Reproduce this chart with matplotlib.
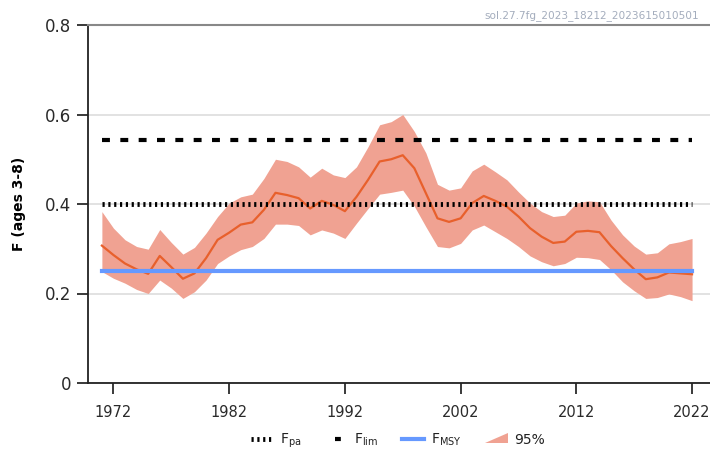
import matplotlib
matplotlib.use("Agg")
import matplotlib.pyplot as plt
import matplotlib.patches as mpatches
from matplotlib.lines import Line2D
from matplotlib.legend_handler import HandlerPatch

years = list(range(1971, 2023))
F = [0.307, 0.286, 0.267, 0.254, 0.244, 0.284, 0.259, 0.233, 0.245, 0.279,
     0.320, 0.336, 0.354, 0.359, 0.387, 0.425, 0.420, 0.413, 0.390, 0.407,
     0.398, 0.384, 0.416, 0.454, 0.495, 0.500, 0.509, 0.480, 0.424, 0.368,
     0.360, 0.368, 0.402, 0.418, 0.407, 0.394, 0.372, 0.346, 0.327, 0.313,
     0.316, 0.338, 0.340, 0.337, 0.306, 0.279, 0.254, 0.232, 0.236, 0.247,
     0.245, 0.243]
F_hi = [0.383, 0.346, 0.320, 0.305, 0.299, 0.343, 0.314, 0.288, 0.303, 0.335,
        0.372, 0.402, 0.416, 0.422, 0.457, 0.500, 0.495, 0.483, 0.460, 0.480,
        0.465, 0.459, 0.483, 0.528, 0.577, 0.584, 0.600, 0.562, 0.514, 0.444,
        0.431, 0.436, 0.474, 0.489, 0.472, 0.454, 0.427, 0.402, 0.383, 0.372,
        0.375, 0.402, 0.407, 0.405, 0.364, 0.331, 0.306, 0.288, 0.291, 0.311,
        0.316, 0.323]
F_lo = [0.249, 0.234, 0.223, 0.209, 0.200, 0.230, 0.212, 0.189, 0.204, 0.230,
        0.267, 0.284, 0.298, 0.305, 0.323, 0.355, 0.355, 0.352, 0.331, 0.342,
        0.335, 0.323, 0.357, 0.390, 0.422, 0.426, 0.431, 0.395, 0.349, 0.305,
        0.302, 0.312, 0.342, 0.353, 0.338, 0.323, 0.305, 0.284, 0.271, 0.262,
        0.267, 0.281, 0.280, 0.276, 0.253, 0.226, 0.206, 0.189, 0.191, 0.199,
        0.193, 0.184]
Fpa = 0.40
Flim = 0.543
Fmsy = 0.25
xticks = [1972, 1982, 1992, 2002, 2012, 2022]
yticks = [0, 0.2, 0.4, 0.6, 0.8]
yticklabels = ['0', '0.2', '0.4', '0.6', '0.8']

plt.rcParams['font.family'] = ['DejaVu Sans']

fig = plt.figure(figsize=(7.1, 4.51), dpi=100)
ax = fig.add_axes([88/710, 1-383/451, 1-88/710, (383-25)/451])

ax.fill_between(years, F_lo, F_hi, color='#f0a292', lw=0, zorder=2)
ax.plot(years, F, color='#e8602c', lw=1.6, zorder=3)

x0, x1 = years[0], years[-1]
ax.plot([x0, x1], [Fpa, Fpa], color='black', lw=3.5, dashes=[0.45, 0.75], zorder=4)
ax.plot([x0, x1], [Flim, Flim], color='black', lw=3, dashes=[1.9, 2.5], zorder=4)
ax.plot([x0, x1], [Fmsy, Fmsy], color='#6699ff', lw=3, zorder=4)

ax.set_xlim(1969.8, 2023.55)
ax.set_ylim(0, 0.8)
ax.set_xticks(xticks)
ax.set_yticks(yticks)
ax.set_yticklabels(yticklabels)
ax.grid(axis='y', color='#dddddd', lw=1.2)
ax.set_axisbelow(True)

ax.spines['right'].set_visible(False)
ax.spines['top'].set_color('#888888')
ax.spines['top'].set_linewidth(1.5)
ax.spines['left'].set_color('#222222')
ax.spines['bottom'].set_color('#222222')
ax.spines['left'].set_linewidth(1.3)
ax.spines['bottom'].set_linewidth(1.3)

ax.tick_params(axis='y', length=8, width=1.3, labelsize=12, colors='#2a2a2a', pad=4)
ax.tick_params(axis='x', length=8, width=1.3, labelsize=10.5, colors='#2a2a2a', pad=8)
ax.set_ylabel('F (ages 3-8)', fontsize=10, fontweight='bold')
ax.yaxis.set_label_coords(-62/622, 0.5)

fig.text(0.985, 0.965, 'sol.27.7fg_2023_18212_2023615010501', fontsize=7.6,
         color='#a4adbd', ha='right', va='center')


def make_wedge(legend, orig_handle, xdescent, ydescent, width, height, fontsize):
    return mpatches.Polygon([[-xdescent, -ydescent + 0.1 * height],
                             [width - xdescent, -ydescent + 0.1 * height],
                             [width - xdescent, -ydescent + 1.1 * height]],
                            closed=True)


h_pa = Line2D([], [], color='black', lw=3.5, dashes=[0.45, 0.75])
h_lim = Line2D([], [], color='black', lw=3, linestyle=(9.0, (1.4, 10)))
h_msy = Line2D([], [], color='#6699ff', lw=3)
h_ci = mpatches.Patch(color='#f0a292', lw=0)
fig.legend([h_pa, h_lim, h_msy, h_ci],
           ['$\\mathregular{F_{pa}}$', '$\\mathregular{F_{lim}}$',
            '$\\mathregular{F_{MSY}}$', '95%'],
           loc='center', bbox_to_anchor=(398/710, 0.022), ncol=4,
           frameon=False, fontsize=10, handlelength=1.6, columnspacing=1.7,
           handletextpad=0.5, labelcolor='#222222',
           handler_map={h_ci: HandlerPatch(patch_func=make_wedge)})

fig.savefig('out.png', dpi=100)
